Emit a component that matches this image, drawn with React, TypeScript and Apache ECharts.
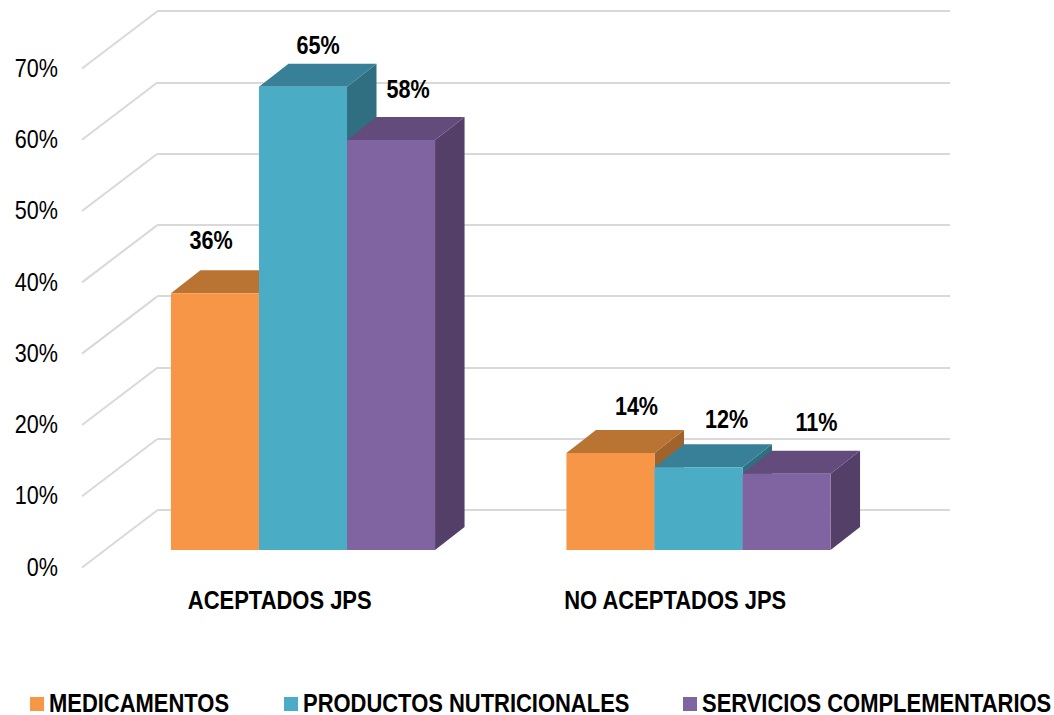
import React, { useEffect, useRef } from "react";
import * as echarts from "echarts";

const categories = ["ACEPTADOS JPS", "NO ACEPTADOS JPS"];
const medicamentos = [36, 13.6];
const productos = [65, 11.6];
const servicios = [57.5, 10.7];
const ticks = [0, 10, 20, 30, 40, 50, 60, 70];

const FONT = '"Liberation Sans", Arial, sans-serif';
const NARROW = 0.83;
const DEPTH = { x: 29.5, y: -23 };
const WALL = { x: 75, y: -57 };
const labelShift = [
  [[-92, -54], [15, -42], [17, -51]],
  [[26, -47], [28, -49], [30, -52]],
];

const palette = [
  { name: "MEDICAMENTOS", values: medicamentos, front: "#F79646", top: "#B97333", side: "#A0632B", legendX: 30 },
  { name: "PRODUCTOS NUTRICIONALES", values: productos, front: "#4BACC6", top: "#388097", side: "#2F6F81", legendX: 284 },
  { name: "SERVICIOS COMPLEMENTARIOS", values: servicios, front: "#8064A2", top: "#634C7C", side: "#533F68", legendX: 683 },
];

function barSeries(index: number) {
  const s = palette[index];
  return {
    type: "custom",
    name: s.name,
    xAxisIndex: 2,
    yAxisIndex: 2,
    z: 5 + index,
    clip: false,
    itemStyle: { color: s.front },
    encode: { x: 0, y: 1 },
    data: s.values.map((v, i) => [i, v]),
    renderItem: (_p: any, api: any) => {
      const cat = api.value(0);
      const val = api.value(1);
      const top = api.coord([cat, val]);
      const base = api.coord([cat, 0]);
      const w = api.size([1, 0])[0] * 0.2226;
      const x0 = top[0] + (index - 1.5) * w;
      const x1 = x0 + w;
      const yT = top[1];
      const yB = base[1];
      const shift = labelShift[cat][index];
      const labelX = cat === 0 && index === 0 ? top[0] + shift[0] : x0 + w / 2 + shift[0];
      return {
        type: "group",
        children: [
          {
            type: "polygon",
            shape: { points: [[x1, yB], [x1 + DEPTH.x, yB + DEPTH.y], [x1 + DEPTH.x, yT + DEPTH.y], [x1, yT]] },
            style: { fill: s.side },
          },
          {
            type: "polygon",
            shape: { points: [[x0, yT], [x0 + DEPTH.x, yT + DEPTH.y], [x1 + DEPTH.x, yT + DEPTH.y], [x1, yT]] },
            style: { fill: s.top },
          },
          { type: "rect", shape: { x: x0, y: yT, width: w, height: yB - yT }, style: { fill: s.front } },
          {
            type: "text",
            z2: 50,
            x: labelX,
            y: yT + shift[1],
            scaleX: NARROW,
            style: {
              text: Math.round(val) + "%",
              fill: "#000",
              font: `bold 26px ${FONT}`,
              align: "center",
              verticalAlign: "middle",
            },
          },
        ],
      };
    },
  };
}

export default function App() {
  const ref = useRef<HTMLDivElement>(null);
  useEffect(() => {
    document.body.style.margin = "0";
    const chart = echarts.init(ref.current!, undefined, { renderer: "svg" });
    const yBase = { type: "value", min: 0, max: 70, interval: 10 };
    chart.setOption({
      animation: false,
      backgroundColor: "#fff",
      grid: [
        { left: 157, top: 11, width: 793, height: 499 },
        { left: 82, top: 68.5, width: 791, height: 499 },
        { left: 105.25, top: 51, width: 791, height: 499 },
      ],
      xAxis: [
        { gridIndex: 0, type: "category", data: categories, show: false },
        { gridIndex: 1, type: "category", data: categories, show: false },
        { gridIndex: 2, type: "category", data: categories, show: false },
      ],
      yAxis: [
        {
          ...yBase,
          gridIndex: 0,
          axisLine: { show: false },
          axisTick: { show: false },
          axisLabel: { show: false },
          splitLine: { show: true, lineStyle: { color: "#D9D9D9", width: 2 } },
        },
        { ...yBase, gridIndex: 1, show: false },
        { ...yBase, gridIndex: 2, show: false },
      ],
      graphic: palette.flatMap((p) => [
        {
          type: "rect",
          x: p.legendX,
          y: 697,
          shape: { width: 14, height: 14 },
          style: { fill: p.front },
        },
        {
          type: "text",
          x: p.legendX + 19,
          y: 703,
          scaleX: 0.845,
          style: {
            text: p.name,
            fill: "#000",
            font: `bold 26px ${FONT}`,
            align: "left",
            verticalAlign: "middle",
          },
        },
      ]),
      series: [
        {
          type: "custom",
          name: "wall",
          xAxisIndex: 1,
          yAxisIndex: 1,
          z: 1,
          clip: false,
          silent: true,
          encode: { y: 0 },
          data: ticks.map((t) => [t]),
          renderItem: (p: any, api: any) => {
            const v = api.value(0);
            const pt = api.coord([0, v]);
            const x = p.coordSys.x;
            return {
              type: "group",
              children: [
                {
                  type: "line",
                  shape: { x1: x, y1: pt[1], x2: x + WALL.x, y2: pt[1] + WALL.y },
                  style: { stroke: "#D9D9D9", lineWidth: 2 },
                },
                {
                  type: "text",
                  x: x - 24,
                  y: pt[1] - 1,
                  scaleX: NARROW,
                  style: {
                    text: v + "%",
                    fill: "#000",
                    font: `26px ${FONT}`,
                    align: "right",
                    verticalAlign: "middle",
                  },
                },
              ],
            };
          },
        },
        {
          type: "custom",
          name: "categories",
          xAxisIndex: 1,
          yAxisIndex: 1,
          z: 2,
          clip: false,
          silent: true,
          encode: { x: 0, y: 1 },
          data: categories.map((_c, i) => [i, 0]),
          renderItem: (_p: any, api: any) => {
            const i = api.value(0);
            const pt = api.coord([i, 0]);
            return {
              type: "text",
              x: pt[0],
              y: pt[1] + 32,
              scaleX: 0.845,
              style: {
                text: categories[i],
                fill: "#000",
                font: `bold 26px ${FONT}`,
                align: "center",
                verticalAlign: "middle",
              },
            };
          },
        },
        barSeries(0),
        barSeries(1),
        barSeries(2),
      ],
    });
    return () => chart.dispose();
  }, []);
  return <div ref={ref} style={{ position: "absolute", left: 0, top: 0, width: 1054, height: 715 }} />;
}
